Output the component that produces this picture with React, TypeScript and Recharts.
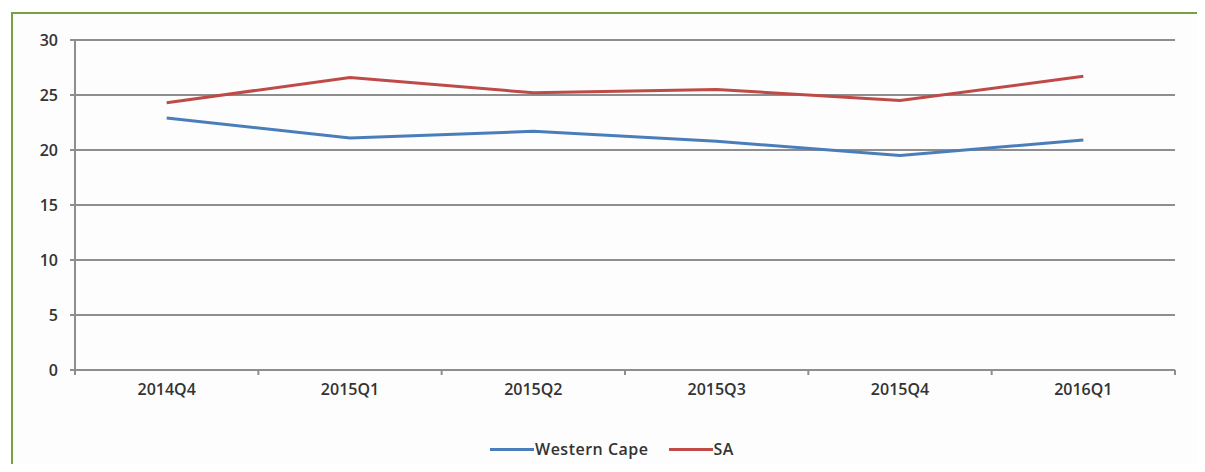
import { LineChart, Line, XAxis, YAxis, CartesianGrid } from 'recharts';

const quarters = ['2014Q4', '2015Q1', '2015Q2', '2015Q3', '2015Q4', '2016Q1'];
const westernCape = [22.9, 21.1, 21.7, 20.8, 19.5, 20.9];
const sa = [24.3, 26.6, 25.2, 25.5, 24.5, 26.7];
const yTicks = [0, 5, 10, 15, 20, 25, 30];

const series = [
  { key: 'wc', name: 'Western Cape', color: '#4a7ebb' },
  { key: 'sa', name: 'SA', color: '#be4b48' },
];

const data = quarters.map((q, i) => ({ q, wc: westernCape[i], sa: sa[i] }));

const FONT = '"Open Sans", sans-serif';
const TEXT = '#333333';
const GRID = '#8e8e8e';

function QuarterTick(props: any) {
  const { x, y, payload, index } = props;
  const half = payload?.offset ?? 0;
  return (
    <g>
      <line x1={x - half} y1={y - 8} x2={x - half} y2={y - 3} stroke={GRID} strokeWidth={2} />
      {index === quarters.length - 1 && (
        <line x1={x + half} y1={y - 8} x2={x + half} y2={y - 3} stroke={GRID} strokeWidth={2} />
      )}
      <text x={x} y={y + 17} textAnchor="middle" fill={TEXT} fontSize={16} fontWeight={600} fontFamily={FONT}>
        {payload.value}
      </text>
    </g>
  );
}

export default function App() {
  return (
    <div style={{ position: 'relative', width: 1205, height: 472, margin: -8, background: '#fff', overflow: 'hidden' }}>
      <div
        style={{
          position: 'absolute',
          left: 11,
          top: 12,
          width: 1300,
          height: 600,
          borderTop: '2px solid #77a042',
          borderLeft: '2px solid #77a042',
          background: '#fdfdfd',
        }}
      />
      <div style={{ position: 'absolute', left: 0, top: 0 }}>
        <LineChart width={1205} height={472} data={data} margin={{ top: 40, right: 30, left: 0, bottom: 72 }}>
          <CartesianGrid vertical={false} stroke={GRID} strokeWidth={2} />
          <XAxis
            dataKey="q"
            scale="band"
            height={30}
            tickLine={false}
            axisLine={{ stroke: GRID, strokeWidth: 2 }}
            tick={<QuarterTick />}
            interval={0}
          />
          <YAxis
            width={75}
            domain={[0, 30]}
            ticks={yTicks}
            tickSize={5}
            tickMargin={12}
            tickLine={{ stroke: GRID, strokeWidth: 2 }}
            axisLine={{ stroke: GRID, strokeWidth: 2 }}
            tick={{ fill: TEXT, fontSize: 16, fontWeight: 600, fontFamily: FONT }}
          />
          {series.map((s) => (
            <Line
              key={s.key}
              type="linear"
              dataKey={s.key}
              name={s.name}
              stroke={s.color}
              strokeWidth={3}
              dot={false}
              isAnimationActive={false}
            />
          ))}
        </LineChart>
      </div>
      <div
        style={{
          position: 'absolute',
          top: 438,
          left: 490,
          display: 'flex',
          fontFamily: FONT,
          fontSize: 16,
          fontWeight: 600,
          color: TEXT,
        }}
      >
        {series.map((s) => (
          <div key={s.key} style={{ display: 'flex', alignItems: 'center', marginRight: 20 }}>
            <span style={{ display: 'inline-block', width: 44, height: 3, background: s.color, marginRight: 1 }} />
            <span style={{ letterSpacing: 0.5 }}>{s.name}</span>
          </div>
        ))}
      </div>
    </div>
  );
}
